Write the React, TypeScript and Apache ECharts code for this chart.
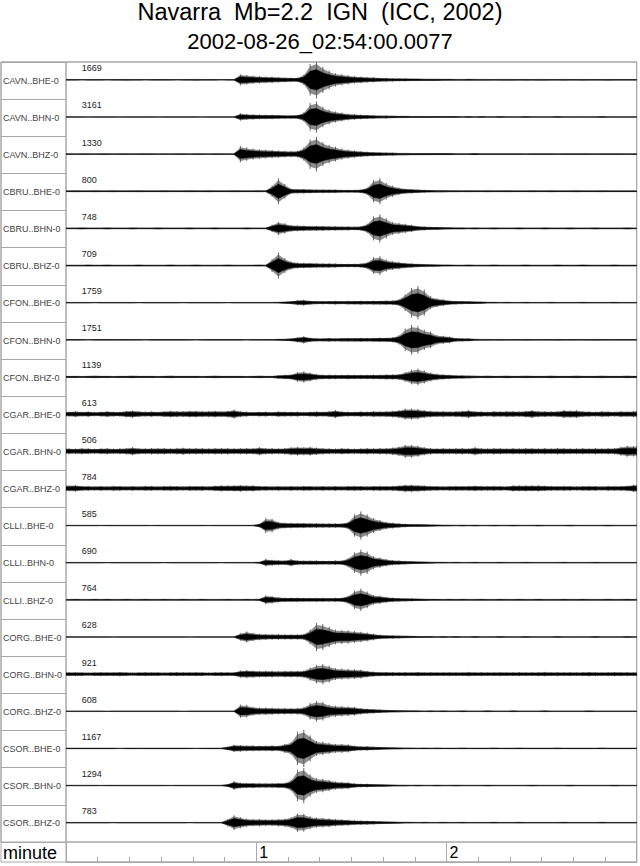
import React, { useEffect, useRef } from "react";
import * as echarts from "echarts";

// ---- data ----
const titleLine1 = "Navarra  Mb=2.2  IGN  (ICC, 2002)";
const titleLine2 = "2002-08-26_02:54:00.0077";
const axisName = "minute";

const stations = [
  "CAVN..BHE-0", "CAVN..BHN-0", "CAVN..BHZ-0",
  "CBRU..BHE-0", "CBRU..BHN-0", "CBRU..BHZ-0",
  "CFON..BHE-0", "CFON..BHN-0", "CFON..BHZ-0",
  "CGAR..BHE-0", "CGAR..BHN-0", "CGAR..BHZ-0",
  "CLLI..BHE-0", "CLLI..BHN-0", "CLLI..BHZ-0",
  "CORG..BHE-0", "CORG..BHN-0", "CORG..BHZ-0",
  "CSOR..BHE-0", "CSOR..BHN-0", "CSOR..BHZ-0",
];
const peakCounts = [1669, 3161, 1330, 800, 748, 709, 1759, 1751, 1139, 613, 506, 784, 585, 690, 764, 628, 921, 608, 1167, 1294, 783];

// envelope of each trace, % of half a row, one value per 2 s (0 .. 178 s)
const SAMPLE_S = 2;
const CAVN_BHE = [3,3,2,3,3,3,2,3,3,4, 3,3,2,3,3,3,3,2,3,3, 4,3,3,3,2,3,3,30,26,22, 20,18,17,15,13,12,12,28,85,100, 70,50,36,30,25,20,18,15,14,11, 10,9,8,8,7,7,6,6,6,5, 5,4,4,5,4,4,4,3,4,4, 4,3,4,3,4,4,3,3,4,3, 3,4,3,3,3,4,3,3,3,3];
const CAVN_BHN = [3,3,3,2,3,3,3,3,2,3, 3,3,3,3,2,3,3,3,3,3, 3,2,3,3,3,3,3,20,16,14, 13,12,12,11,10,10,11,25,75,84, 55,40,30,24,18,15,13,11,10,8, 8,7,6,6,5,5,5,4,4,4, 4,4,3,4,3,4,3,3,4,3, 3,3,4,3,3,3,3,4,3,3, 3,3,3,3,4,3,3,3,3,3];
const CAVN_BHZ = [4,3,4,4,3,4,4,3,4,4, 3,4,4,4,3,4,3,4,4,3, 4,4,3,4,4,3,4,44,36,30, 26,24,22,20,18,17,18,35,80,93, 65,50,40,30,24,20,16,13,12,10, 9,8,7,7,6,6,6,5,5,5, 5,4,4,4,5,4,4,4,4,4, 4,4,3,4,4,4,4,3,4,4, 4,4,4,3,4,4,4,4,3,4];
const CBRU_BHE = [4,5,4,4,5,4,4,5,4,4, 4,5,4,4,4,5,4,4,4,5, 4,4,5,4,4,4,5,4,4,4, 5,4,30,70,40,14,12,12,11,10, 10,9,9,8,8,8,9,20,60,70, 45,30,20,14,12,10,8,7,6,6, 5,5,4,5,4,4,5,4,4,5, 4,4,4,5,4,4,5,4,4,4, 5,4,4,4,5,4,4,4,4,4];
const CBRU_BHN = [4,4,5,4,4,4,5,4,4,4, 5,4,4,4,5,4,4,4,4,5, 4,4,4,5,4,4,4,4,5,4, 4,4,20,36,28,18,16,15,14,14, 13,12,12,11,11,10,12,25,65,76, 55,35,30,25,20,13,11,9,8,7, 6,5,5,4,5,4,4,5,4,4, 4,5,4,4,4,5,4,4,4,5, 4,4,4,5,4,4,4,4,5,4];
const CBRU_BHZ = [4,4,4,5,4,4,5,4,4,4, 4,5,4,4,4,4,5,4,4,4, 5,4,4,4,4,5,4,4,4,4, 5,4,35,70,40,22,16,15,14,13, 12,12,11,10,10,10,11,18,45,50, 32,24,20,15,12,10,8,7,6,5, 5,4,4,5,4,4,4,5,4,4, 4,4,5,4,4,4,4,5,4,4, 4,5,4,4,4,4,5,4,4,4];
const CFON_BHE = [3,3,3,3,2,3,3,3,3,3, 3,2,3,3,3,3,3,3,2,3, 3,3,3,3,3,2,3,3,3,3, 3,3,3,4,6,8,14,16,11,9, 9,9,10,9,10,10,11,10,11,11, 12,12,18,45,80,90,70,35,24,18, 12,10,9,8,7,6,4,4,3,4, 3,3,4,3,3,3,4,3,3,3, 3,4,3,3,3,3,4,3,3,3];
const CFON_BHN = [3,3,3,2,3,3,3,3,3,3, 3,3,2,3,3,3,3,3,3,3, 2,3,3,3,3,3,3,3,2,3, 3,3,3,5,6,8,14,20,12,9, 9,10,9,10,10,10,11,10,11,12, 12,14,25,60,80,75,55,45,26,22, 18,10,9,8,5,4,4,3,4,3, 3,3,4,3,3,3,3,4,3,3, 3,3,3,4,3,3,3,3,3,3];
const CFON_BHZ = [6,6,5,6,7,6,6,5,6,6, 7,6,6,6,5,6,7,6,6,6, 6,5,6,7,6,6,6,6,5,6, 7,6,6,10,12,14,26,30,24,16, 13,13,12,12,13,12,12,12,13,13, 14,14,16,26,40,45,35,24,18,14, 12,10,9,8,7,6,7,6,6,7, 6,6,7,6,6,6,7,6,6,6, 7,6,6,6,7,6,6,6,7,6];
const CGAR_BHE = [14,16,13,15,12,14,16,14,13,18, 20,16,14,15,13,16,18,17,16,18, 18,16,17,18,16,18,24,16,14,12, 13,14,12,15,14,13,14,12,14,15, 14,16,22,15,14,13,15,14,16,15, 16,18,22,30,30,28,22,18,16,17, 15,16,18,22,16,15,14,16,15,17, 16,15,18,22,17,16,15,16,22,20, 21,16,15,14,16,15,14,16,15,17];
const CGAR_BHN = [16,15,17,16,14,16,17,15,16,18, 22,17,16,18,17,18,16,18,19,17, 18,17,16,18,17,18,16,17,18,17, 22,18,17,16,18,22,24,22,24,20, 18,16,15,17,16,15,16,17,16,18, 18,20,25,35,35,30,22,18,16,17, 16,17,18,16,22,17,16,18,17,16, 17,16,18,17,16,17,16,18,17,16, 16,17,16,17,16,17,18,24,30,28];
const CGAR_BHZ = [16,18,14,13,12,13,12,14,13,12, 13,12,14,13,12,13,14,13,12,14, 13,14,12,15,17,16,17,18,16,17, 14,13,12,13,12,13,12,14,13,12, 13,12,13,12,13,14,13,12,13,14, 13,14,16,20,20,18,16,14,13,12, 13,14,13,14,15,14,13,14,13,12, 17,16,17,16,17,15,14,13,14,13, 12,13,14,13,12,14,13,14,15,20];
const CLLI_BHE = [3,3,3,3,3,2,3,3,3,3, 3,3,3,2,3,3,3,3,3,3, 3,3,2,3,3,3,3,3,3,3, 10,40,36,20,16,15,14,14,13,13, 12,12,12,12,20,60,76,60,40,30, 20,16,12,10,8,8,7,6,5,4, 4,3,4,3,4,3,3,4,3,3, 4,3,3,3,4,3,3,3,3,4, 3,3,3,3,3,4,3,3,3,3];
const CLLI_BHN = [3,3,3,3,3,3,2,3,3,3, 3,3,3,3,3,2,3,3,3,3, 3,3,3,3,2,3,3,3,3,3, 5,20,16,14,13,20,13,12,12,12, 11,11,12,12,25,55,70,60,35,28, 20,14,12,10,8,7,6,5,4,4, 3,4,3,3,4,3,3,3,4,3, 3,3,4,3,3,3,3,3,4,3, 3,3,3,4,3,3,3,3,3,3];
const CLLI_BHZ = [4,5,4,4,5,4,5,4,4,5, 4,4,5,4,4,5,4,4,5,4, 4,5,4,4,4,5,4,4,5,4, 6,24,20,14,12,12,12,11,11,11, 11,10,11,12,22,50,60,45,26,22, 16,12,10,9,8,7,6,5,5,4, 5,4,5,4,4,5,4,4,5,4, 4,5,4,4,5,4,4,4,5,4, 4,5,4,4,4,5,4,4,5,4];
const CORG_BHE = [3,3,3,3,3,3,3,2,3,3, 3,3,3,3,3,3,3,3,3,2, 3,3,3,3,3,3,3,20,30,22, 18,16,15,15,14,14,14,16,40,76, 70,55,40,38,36,32,28,24,18,12, 10,9,8,7,6,5,4,4,3,4, 3,4,3,3,4,3,3,3,4,3, 3,3,4,3,3,3,3,4,3,3, 3,3,3,4,3,3,3,3,4,3];
const CORG_BHN = [10,11,10,9,10,11,10,10,12,10, 9,10,11,10,10,9,10,11,10,10, 11,10,9,10,11,10,10,20,22,20, 18,18,18,17,18,18,18,20,35,50, 55,45,32,30,28,26,24,18,14,12, 12,11,10,11,10,12,10,11,10,10, 11,10,10,12,10,11,10,10,11,10, 10,11,10,10,11,12,10,11,10,11, 10,11,12,11,10,11,12,11,11,10];
const CORG_BHZ = [3,3,3,3,3,3,2,3,3,3, 3,3,3,3,3,3,3,3,2,3, 3,3,3,3,3,3,3,36,34,24, 20,20,19,18,18,17,18,22,45,56, 50,35,30,28,26,24,18,14,12,10, 8,7,6,5,4,4,3,4,3,4, 3,3,4,3,3,3,4,3,3,3, 4,3,3,3,3,4,3,3,3,3, 3,3,4,3,3,3,3,3,3,3];
const CSOR_BHE = [3,3,3,3,3,3,3,3,2,3, 3,3,3,3,3,3,3,3,3,3, 2,3,3,3,3,10,20,18,16,16, 15,15,16,15,24,35,90,100,70,40, 36,30,24,24,22,15,12,12,10,8, 7,6,5,4,4,3,4,3,4,3, 3,3,4,3,3,3,3,4,3,3, 3,4,3,3,3,3,3,4,3,3, 3,3,3,3,4,3,3,3,3,3];
const CSOR_BHN = [3,3,3,3,3,2,3,3,3,3, 3,3,3,3,3,3,2,3,3,3, 3,3,3,3,3,8,24,16,14,14, 13,13,13,14,15,30,85,95,60,40, 36,30,22,20,18,12,10,10,8,7, 6,5,4,4,3,4,3,3,4,3, 3,4,3,3,3,3,4,3,3,3, 3,3,3,4,3,3,3,3,3,4, 3,3,3,3,3,3,4,3,3,3];
const CSOR_BHZ = [3,3,3,3,3,3,3,2,3,3, 3,3,3,3,3,3,3,3,3,2, 3,3,3,3,3,20,40,30,22,20, 20,18,18,20,22,30,50,48,35,28, 26,24,20,18,16,13,12,11,10,8, 7,6,5,4,4,3,4,3,3,4, 3,3,4,3,3,3,3,4,3,3, 3,4,3,3,3,3,3,3,4,3, 3,3,3,3,4,3,3,3,3,3];

const traces = [
  CAVN_BHE, CAVN_BHN, CAVN_BHZ, CBRU_BHE, CBRU_BHN, CBRU_BHZ,
  CFON_BHE, CFON_BHN, CFON_BHZ, CGAR_BHE, CGAR_BHN, CGAR_BHZ,
  CLLI_BHE, CLLI_BHN, CLLI_BHZ, CORG_BHE, CORG_BHN, CORG_BHZ,
  CSOR_BHE, CSOR_BHN, CSOR_BHZ,
];

const T_MAX = 180; // seconds shown
const FONT = "'Liberation Sans', Arial, Helvetica, sans-serif";
const LINE = "#a8a8a8";

export default function App() {
  const ref = useRef<HTMLDivElement>(null);

  useEffect(() => {
    if (!ref.current) return;
    const chart = echarts.init(ref.current, undefined, { renderer: "svg" });
    const nRows = stations.length;

    const renderTrace = (_params: any, api: any) => {
      const row = api.value(0) as number;
      const env = traces[row];
      const base = row + 0.48;
      const n = env.length;
      const samples: number[][] = [[0, env[0]]];
      env.forEach((a, k) => samples.push([k * SAMPLE_S + SAMPLE_S / 2, a]));
      samples.push([n * SAMPLE_S, env[n - 1]]);
      const outerTop: number[][] = [];
      const outerBot: number[][] = [];
      const coreTop: number[][] = [];
      const coreBot: number[][] = [];
      const spikes: any[] = [];
      samples.forEach(([t, a]) => {
        const h = (a / 100) * 0.5;
        outerTop.push(api.coord([t, base - h * 0.85]));
        outerBot.push(api.coord([t, base + h * 0.85]));
        coreTop.push(api.coord([t, base - h * 0.55]));
        coreBot.push(api.coord([t, base + h * 0.55]));
        if (a >= 8) {
          const p1 = api.coord([t, base - h]);
          const p2 = api.coord([t, base + h]);
          spikes.push({
            type: "line",
            shape: { x1: p1[0], y1: p1[1], x2: p2[0], y2: p2[1] },
            style: { stroke: "#555", lineWidth: 0.9 },
          });
        }
      });
      const labelPos = api.coord([5, row + 0.17]);
      return {
        type: "group",
        children: [
          {
            type: "polygon",
            shape: { points: outerTop.concat(outerBot.reverse()) },
            style: { fill: "#8c8c8c", stroke: "none" },
          },
          ...spikes,
          {
            type: "polygon",
            shape: { points: coreTop.concat(coreBot.reverse()) },
            style: { fill: "#000", stroke: "#111", lineWidth: 0.5 },
          },
          {
            type: "text",
            x: labelPos[0],
            y: labelPos[1],
            style: {
              text: String(peakCounts[row]),
              fontSize: 9,
              fontFamily: FONT,
              fill: "#222",
              align: "left",
              verticalAlign: "middle",
            },
          },
        ],
      };
    };

    chart.setOption({
      animation: false,
      backgroundColor: "#fff",
      textStyle: { fontFamily: FONT },
      title: [
        {
          text: titleLine1,
          left: "center",
          top: 0,
          padding: 0,
          textStyle: { fontSize: 23.5, fontWeight: "normal", color: "#000", fontFamily: FONT },
        },
        {
          text: titleLine2,
          left: "center",
          top: 30,
          padding: 0,
          textStyle: { fontSize: 22, fontWeight: "normal", color: "#000", fontFamily: FONT },
        },
      ],
      graphic: [
        {
          type: "rect",
          shape: { x: 1, y: 62, width: 635.7, height: 800 },
          style: { fill: "none", stroke: LINE, lineWidth: 1 },
          silent: true,
        },
      ],
      grid: [
        { left: 1, top: 62, width: 65, height: 780, show: true, borderColor: LINE, borderWidth: 1 },
        { left: 66, top: 62, width: 570.7, height: 780, show: true, borderColor: LINE, borderWidth: 1 },
        { left: 66, top: 842, width: 570.7, height: 20, show: true, borderColor: LINE, borderWidth: 1 },
      ],
      xAxis: [
        { gridIndex: 0, type: "value", min: 0, max: 1, show: false },
        { gridIndex: 1, type: "value", min: 0, max: T_MAX, show: false },
        {
          gridIndex: 2,
          type: "value",
          min: 0,
          max: T_MAX,
          interval: 60,
          axisLine: { show: true, lineStyle: { color: LINE } },
          axisTick: { show: true, inside: true, length: 20, lineStyle: { color: LINE } },
          minorTick: { show: true, splitNumber: 6, length: 5, lineStyle: { color: LINE } },
          splitLine: { show: false },
          axisLabel: {
            inside: true,
            margin: 10,
            verticalAlign: "middle",
            align: "left",
            padding: [0, 0, 0, 3],
            fontSize: 16,
            color: "#000",
            fontFamily: FONT,
            showMinLabel: false,
            showMaxLabel: false,
            formatter: (v: number) => (v > 0 && v < T_MAX ? String(v / 60) : ""),
          },
          name: axisName,
          nameLocation: "start",
          nameGap: 9,
          nameTextStyle: { fontSize: 18, color: "#000", fontFamily: FONT, verticalAlign: "bottom", align: "right" },
        },
      ],
      yAxis: [
        {
          gridIndex: 0,
          type: "category",
          data: stations,
          inverse: true,
          axisLine: { show: false },
          axisTick: { show: false },
          splitLine: { show: true, interval: 0, lineStyle: { color: LINE } },
          axisLabel: {
            inside: true,
            margin: 2,
            fontSize: 9,
            color: "#444",
            fontFamily: FONT,
            interval: 0,
          },
        },
        { gridIndex: 1, type: "value", min: 0, max: nRows, inverse: true, show: false },
        { gridIndex: 2, type: "value", min: 0, max: 1, show: false },
      ],
      series: [
        {
          type: "custom",
          xAxisIndex: 1,
          yAxisIndex: 1,
          clip: true,
          renderItem: renderTrace,
          data: stations.map((_, i) => [i, i]),
          encode: { x: 0, y: 1 },
          silent: true,
        },
      ],
    });

    return () => chart.dispose();
  }, []);

  return (
    <div
      ref={ref}
      style={{ position: "absolute", left: 0, top: 0, width: 640, height: 866, background: "#fff" }}
    />
  );
}
